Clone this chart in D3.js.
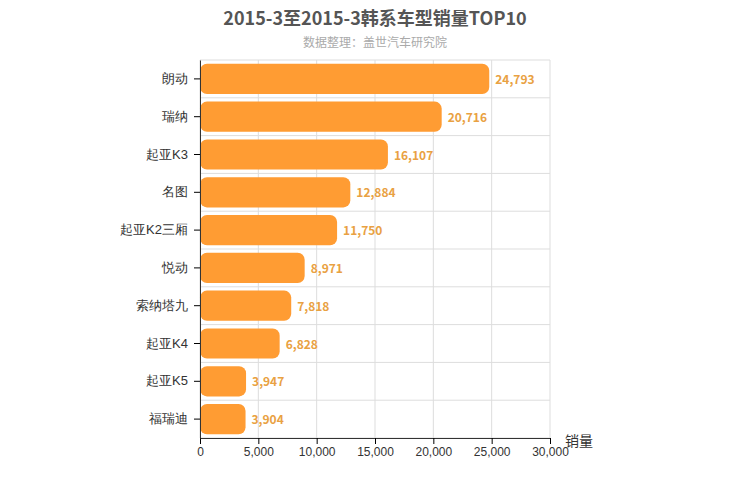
<!DOCTYPE html>
<html><head><meta charset="utf-8">
<script src="https://cdn.jsdelivr.net/npm/d3@7"></script>
<style>body{margin:0;background:#fff;font-family:"Noto Sans CJK SC","Noto Sans",sans-serif;}</style>
</head><body>
<script>
const models = ["朗动","瑞纳","起亚K3","名图","起亚K2三厢","悦动","索纳塔九","起亚K4","起亚K5","福瑞迪"];
const sales = [24793,20716,16107,12884,11750,8971,7818,6828,3947,3904];
const xTicks = [0,5000,10000,15000,20000,25000,30000];

const width = 750, height = 500;
const m = {left: 200, right: 200, top: 60, bottom: 62};
const svg = d3.select("body").append("svg").attr("width", width).attr("height", height);

const x = d3.scaleLinear().domain([0, 30000]).range([m.left, width - m.right]);
const y = d3.scaleBand().domain(models).range([m.top, height - m.bottom]).paddingInner(0.2).paddingOuter(0.1);
const step = y.step();

// grid
svg.append("g").selectAll("line").data(xTicks).join("line")
  .attr("x1", d => x(d)).attr("x2", d => x(d))
  .attr("y1", m.top).attr("y2", height - m.bottom)
  .attr("stroke", "#ddd");
svg.append("g").selectAll("line").data(d3.range(models.length + 1)).join("line")
  .attr("x1", m.left).attr("x2", width - m.right)
  .attr("y1", i => m.top + i * step).attr("y2", i => m.top + i * step)
  .attr("stroke", "#ddd");

// bars
svg.append("g").selectAll("rect").data(models).join("rect")
  .attr("x", x(0)).attr("y", d => y(d))
  .attr("width", (d, i) => x(sales[i]) - x(0)).attr("height", y.bandwidth())
  .attr("rx", 7).attr("fill", "#ff9c33");

svg.append("g").selectAll("text").data(models).join("text")
  .attr("x", (d, i) => x(sales[i]) + 6).attr("y", d => y(d) + y.bandwidth() / 2 + 5)
  .attr("font-size", 12).attr("font-weight", "bold").attr("fill", "#e9a142")
  .text((d, i) => d3.format(",")(sales[i]));

// axes
const xa = svg.append("g").attr("transform", `translate(0,${height - m.bottom})`)
  .call(d3.axisBottom(x).tickValues(xTicks).tickFormat(d3.format(",")).tickSizeOuter(0));
xa.select(".domain").attr("stroke", "#333");
xa.selectAll("text").attr("font-size", 12).attr("fill", "#333");

const ya = svg.append("g").attr("transform", `translate(${m.left},0)`)
  .call(d3.axisLeft(y).tickSizeOuter(0));
ya.select(".domain").attr("stroke", "#333");
ya.selectAll("text").attr("font-size", 13).attr("fill", "#333").attr("dx", -3);

svg.append("text").attr("x", 565).attr("y", 446).attr("font-size", 14).attr("fill", "#333").text("销量");

svg.append("text").attr("x", 375).attr("y", 25).attr("text-anchor", "middle")
  .attr("font-size", 18).attr("font-weight", "bold").attr("fill", "#555")
  .text("2015-3至2015-3韩系车型销量TOP10");
svg.append("text").attr("x", 375).attr("y", 47).attr("text-anchor", "middle")
  .attr("font-size", 12).attr("fill", "#aaa").text("数据整理：盖世汽车研究院");
</script>
</body></html>
